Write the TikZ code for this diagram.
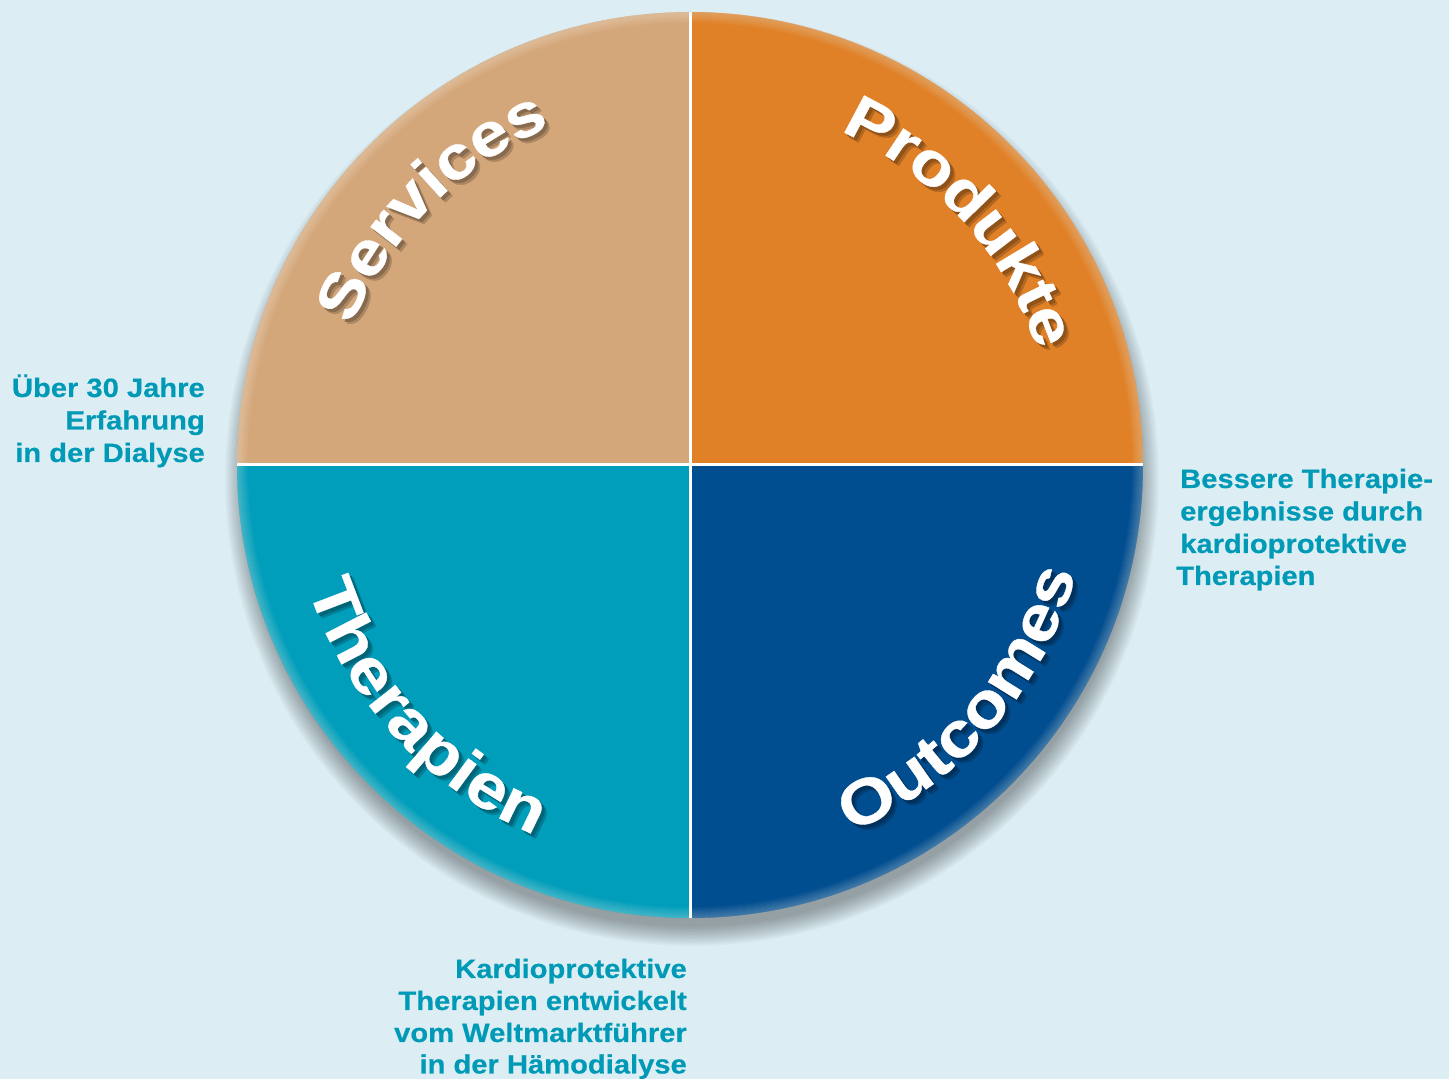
\documentclass[tikz,border=0pt]{standalone}
\usepackage{fontspec}
\newfontfamily\labfont{Liberation Sans Bold}[FakeStretch=1.1,FakeBold=0.4]
\newfontfamily\wordfont{Liberation Sans Bold}[FakeStretch=1.15,FakeBold=0.6]
\usetikzlibrary{decorations.text}
\definecolor{bgc}{HTML}{DCEEF4}
\definecolor{qtan}{HTML}{D4A77A}
\definecolor{qorange}{HTML}{E08128}
\definecolor{qteal}{HTML}{009EBB}
\definecolor{qblue}{HTML}{004D8F}
\definecolor{labc}{HTML}{0099B6}
\newcommand\qword[6]{%
  \path[shift={(695,609)},decorate,decoration={text along path,
    text={|\wordfont\fontsize{#6}{70}\selectfont|#1},text align=center,
    text color=#5!80!black}] (#3:#2) arc[start angle=#3,end angle=#4,radius=#2];
  \path[shift={(693,611)},decorate,decoration={text along path,
    text={|\wordfont\fontsize{#6}{70}\selectfont|#1},text align=center,
    text color=#5!64!black}] (#3:#2) arc[start angle=#3,end angle=#4,radius=#2];
  \path[shift={(690,614)},decorate,decoration={text along path,
    text={|\wordfont\fontsize{#6}{70}\selectfont|#1},text align=center,
    text color=white}] (#3:#2) arc[start angle=#3,end angle=#4,radius=#2];
}
\begin{document}
\begin{tikzpicture}[x=1pt,y=1pt,
  lab/.style={inner sep=0pt,text=labc,font=\labfont\fontsize{26.5}{32}\selectfont},
  quad/.style={shift={(690,614)}}]
\useasboundingbox (0,0) rectangle (1449,1079);
\fill[bgc] (0,0) rectangle (1449,1079);
% circle shadow
\foreach \i in {0,...,14}
  \fill[black,opacity=0.025] (692,600) circle[radius=453+14-\i*1.4];
% quadrants
\begin{scope}[quad]
  \fill[qtan] (0,0) -- (180:453) arc[start angle=180,end angle=90,radius=453] -- cycle;
  \fill[qorange] (0,0) -- (90:453) arc[start angle=90,end angle=0,radius=453] -- cycle;
  \fill[qteal] (0,0) -- (180:453) arc[start angle=180,end angle=270,radius=453] -- cycle;
  \fill[qblue] (0,0) -- (270:453) arc[start angle=270,end angle=360,radius=453] -- cycle;
  \begin{scope}
    \clip (0,0) circle[radius=453];
    \foreach \w in {2,4,...,22}
      \draw[white,opacity=0.028,line width=\w] (0,0) circle[radius=453];
  \end{scope}
  \draw[white,line width=3] (0,-453) -- (0,453);
  \draw[white,line width=3] (-453,0) -- (453,0);
\end{scope}
% curved words
\qword{Services}{366}{180}{90}{qtan}{61}
\qword{Produkte}{366}{87}{-3}{qorange}{61}
\qword{Therapien}{401}{177.5}{267.5}{qteal}{63}
\qword{Outcomes}{401}{-86}{4}{qblue}{63}
% labels
\node[lab,anchor=base east] (l1a) at (205,682) {Über 30 Jahre};
\node[lab,anchor=base east] (l1b) at (205,649.5) {Erfahrung};
\node[lab,anchor=base east] (l1c) at (205,617) {in der Dialyse};
\node[lab,anchor=base west] (l2a) at (1180,591) {Bessere Therapie-};
\node[lab,anchor=base west] (l2b) at (1180,558.5) {ergebnisse durch};
\node[lab,anchor=base west] (l2c) at (1180,526) {kardioprotektive};
\node[lab,anchor=base west] (l2d) at (1176,494) {Therapien};
\node[lab,anchor=base east] (l3a) at (687,101) {Kardioprotektive};
\node[lab,anchor=base east] (l3b) at (687,69) {Therapien entwickelt};
\node[lab,anchor=base east] (l3c) at (687,37) {vom Weltmarktführer};
\node[lab,anchor=base east] (l3d) at (687,5.5) {in der Hämodialyse};
\end{tikzpicture}
\end{document}
